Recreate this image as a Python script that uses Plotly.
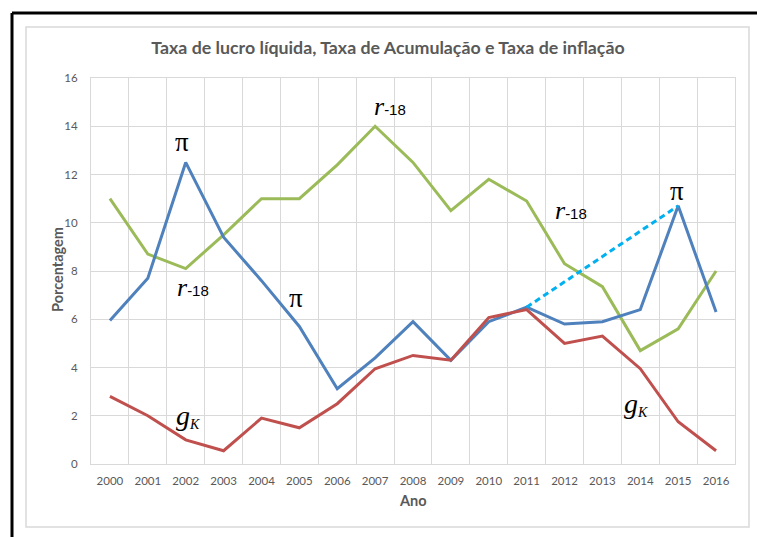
import plotly.graph_objects as go

years = ["2000", "2001", "2002", "2003", "2004", "2005", "2006", "2007", "2008",
         "2009", "2010", "2011", "2012", "2013", "2014", "2015", "2016"]
pi_vals = [5.95, 7.7, 12.5, 9.4, 7.6, 5.7, 3.12, 4.4, 5.9, 4.3, 5.9, 6.5, 5.8, 5.9, 6.4, 10.7, 6.3]
r18_vals = [11.0, 8.7, 8.1, 9.5, 11.0, 11.0, 12.4, 14.0, 12.5, 10.5, 11.8, 10.9, 8.3, 7.35, 4.7, 5.6, 8.0]
gk_vals = [2.8, 2.0, 1.0, 0.55, 1.9, 1.5, 2.5, 3.95, 4.5, 4.3, 6.07, 6.4, 5.0, 5.3, 3.95, 1.75, 0.55]
dash_years = ["2011", "2015"]
dash_vals = [6.5, 10.7]
y_ticks = [0, 2, 4, 6, 8, 10, 12, 14, 16]

W, H = 757, 537
L, R, T, B = 91, 735, 78, 464
pw, ph = R - L, B - T


def px(x):
    return (x - L) / pw


def py(y):
    return (B - y) / ph


fig = go.Figure()
fig.add_trace(go.Scatter(x=years, y=r18_vals, mode="lines",
                         line=dict(color="#9BBB59", width=3), showlegend=False))
fig.add_trace(go.Scatter(x=years, y=pi_vals, mode="lines",
                         line=dict(color="#4F81BD", width=3), showlegend=False))
fig.add_trace(go.Scatter(x=years, y=gk_vals, mode="lines",
                         line=dict(color="#C0504D", width=3), showlegend=False))
fig.add_trace(go.Scatter(x=dash_years, y=dash_vals, mode="lines",
                         line=dict(color="#00B0F0", width=3, dash="6px,4px"), showlegend=False))

serif = "Liberation Serif"
r_txt = ('<span style="font-family:%s;font-size:26px"><i>r</i></span>'
         '<span style="font-family:Liberation Sans;font-size:15px">-18</span>') % serif
pi_txt = '<span style="font-family:%s;font-size:27px">π</span>' % serif
g_txt = ('<span style="font-family:%s;font-size:28px"><i>g</i></span>'
         '<span style="font-family:%s;font-size:20px"><sub><i>K</i></sub></span>') % (serif, serif)

labels = [
    (1.90, 13.35, pi_txt),
    (2.19, 7.3, r_txt),
    (4.91, 6.9, pi_txt),
    (7.39, 14.8, r_txt),
    (12.17, 10.5, r_txt),
    (14.97, 11.3, pi_txt),
    (2.06, 2.0, g_txt),
    (13.89, 2.5, g_txt),
]
annotations = []
for x, y, t in labels:
    annotations.append(dict(x=x, y=y, xref="x", yref="y", text=t, showarrow=False,
                            xanchor="center", yanchor="middle",
                            font=dict(color="black", size=20)))

annotations.append(dict(x=px(57), y=py(270), xref="paper", yref="paper", text="<b>Porcentagem</b>",
                        showarrow=False, textangle=-90, xanchor="center", yanchor="middle",
                        font=dict(family="Lato", size=14.5, color="#595959")))
annotations.append(dict(x=px(413), y=py(501), xref="paper", yref="paper", text="<b>Ano</b>",
                        showarrow=False, xanchor="center", yanchor="middle",
                        font=dict(family="Lato", size=14.5, color="#595959")))

shapes = [
    dict(type="rect", xref="paper", yref="paper", x0=px(26), x1=px(749), y0=py(527), y1=py(27),
         line=dict(color="#D9D9D9", width=1.5), fillcolor="rgba(0,0,0,0)", layer="below"),
    dict(type="line", xref="paper", yref="paper", x0=px(12), x1=px(757), y0=py(13), y1=py(13),
         line=dict(color="black", width=3)),
    dict(type="line", xref="paper", yref="paper", x0=px(12), x1=px(12), y0=py(13), y1=py(540),
         line=dict(color="black", width=3)),
]

fig.update_layout(
    width=W, height=H,
    margin=dict(l=L, r=W - R, t=T, b=H - B),
    paper_bgcolor="white", plot_bgcolor="white",
    title=dict(text="<b>Taxa de lucro líquida, Taxa de Acumulação e Taxa de inflação</b>",
               x=388 / W, xanchor="center", y=1 - 48 / H, yanchor="middle",
               yref="container", xref="container",
               font=dict(family="Lato", size=17.8, color="#595959")),
    annotations=annotations,
    shapes=shapes,
    xaxis=dict(type="category", categoryorder="array", categoryarray=years,
               range=[-0.5, 16.5], tickson="boundaries", showgrid=True, gridcolor="#D9D9D9",
               gridwidth=1, showline=True, linecolor="#D9D9D9", linewidth=1, mirror=True,
               ticks="", tickfont=dict(family="Lato", size=11.5, color="#595959"),
               ticklabelstandoff=6, zeroline=False, fixedrange=True),
    yaxis=dict(range=[0, 16], tickvals=y_ticks, showgrid=True, gridcolor="#D9D9D9", gridwidth=1,
               showline=True, linecolor="#D9D9D9", linewidth=1, mirror=True, ticks="",
               tickfont=dict(family="Lato", size=11.5, color="#595959"),
               ticklabelstandoff=10, zeroline=False, fixedrange=True),
)

fig.write_html("out.html", config={"displayModeBar": False},
               post_script="document.body.style.margin='0';document.body.style.overflow='hidden';")
